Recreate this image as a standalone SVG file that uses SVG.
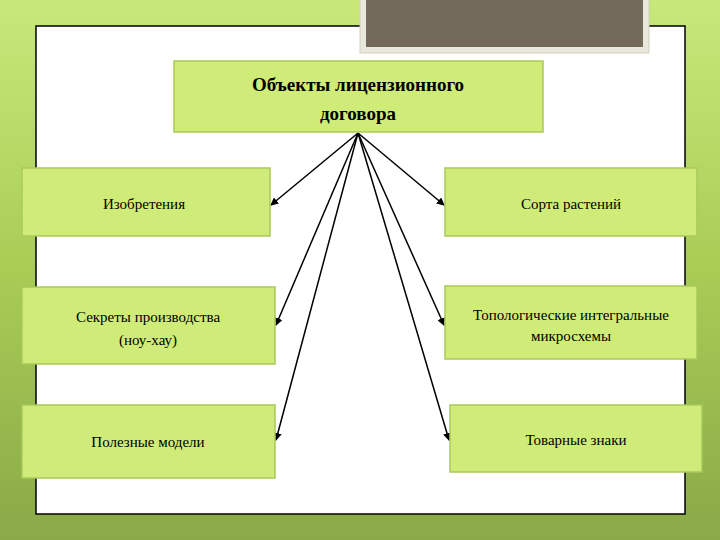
<svg xmlns="http://www.w3.org/2000/svg" width="720" height="540" viewBox="0 0 720 540">
<defs>
<linearGradient id="bg" x1="0" y1="0" x2="0" y2="1">
<stop offset="0" stop-color="#c8e87a"/><stop offset="0.5" stop-color="#a9cc55"/><stop offset="1" stop-color="#8aa948"/>
</linearGradient>
<marker id="ah" markerWidth="8" markerHeight="8" refX="7" refY="4" orient="auto" markerUnits="userSpaceOnUse">
<path d="M0,0 L8,4 L0,8 z" fill="#000"/>
</marker>
<style>
.box{fill:#d0ec78;stroke:#a9c95a;stroke-width:1.5}
.t{font-family:"Liberation Serif",serif;font-size:15px;fill:#000;text-anchor:middle}
.h{font-family:"Liberation Serif",serif;font-size:19px;font-weight:bold;fill:#000;text-anchor:middle}
.c{stroke:#000;stroke-width:1.5;fill:none;marker-end:url(#ah)}
</style>
</defs>
<rect width="720" height="540" fill="url(#bg)"/>
<rect x="36" y="26" width="649" height="488" fill="#fff" stroke="#000" stroke-width="1.5"/>
<rect x="360" y="-2" width="289" height="55" fill="#e8e8dc" stroke="#cfcfc0"/>
<rect x="366" y="-2" width="277" height="49" fill="#736a5c"/>
<g id="connectors">
<line class="c" x1="358" y1="133" x2="271" y2="205"/>
<line class="c" x1="358" y1="133" x2="444" y2="205"/>
<line class="c" x1="358" y1="133" x2="276" y2="325"/>
<line class="c" x1="358" y1="133" x2="444" y2="325"/>
<line class="c" x1="358" y1="133" x2="276" y2="440"/>
<line class="c" x1="358" y1="133" x2="449" y2="440"/>
</g>
<g id="root"><rect class="box" x="174" y="61" width="369" height="71"/>
<text class="h" x="358" y="91">Объекты лицензионного</text><text class="h" x="358" y="120">договора</text></g>
<g id="n1"><rect class="box" x="22" y="168" width="248" height="68"/><text class="t" x="144" y="209">Изобретения</text></g>
<g id="n2"><rect class="box" x="445" y="168" width="252" height="68"/><text class="t" x="571" y="209">Сорта растений</text></g>
<g id="n3"><rect class="box" x="22" y="287" width="253" height="77"/><text class="t" x="148" y="322">Секреты производства</text><text class="t" x="148" y="345">(ноу-хау)</text></g>
<g id="n4"><rect class="box" x="445" y="286" width="252" height="73"/><text class="t" x="571" y="320">Топологические интегральные</text><text class="t" x="571" y="341">микросхемы</text></g>
<g id="n5"><rect class="box" x="22" y="405" width="253" height="73"/><text class="t" x="148" y="447">Полезные модели</text></g>
<g id="n6"><rect class="box" x="450" y="405" width="252" height="67"/><text class="t" x="576" y="445">Товарные знаки</text></g>
</svg>
